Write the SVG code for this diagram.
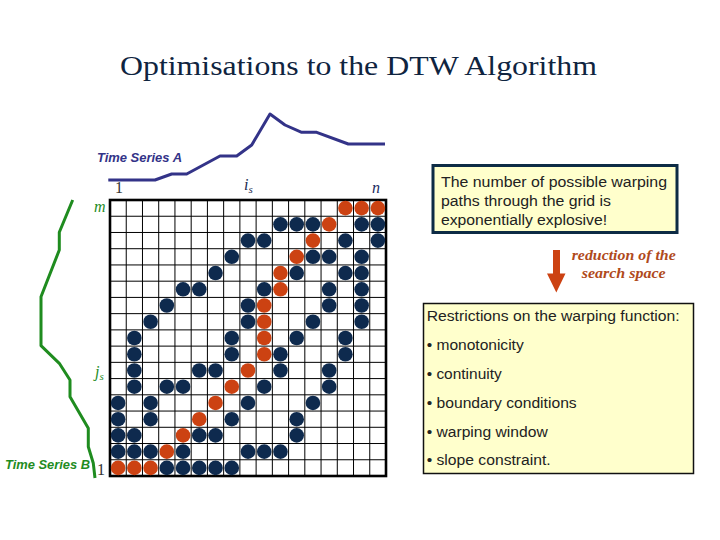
<svg xmlns="http://www.w3.org/2000/svg" width="720" height="540" viewBox="0 0 720 540">
<style>
.n{fill:#0e2a4e}
.o{fill:#cc4212}
.box{fill:#ffffcc}
.sans{font-family:"Liberation Sans",Arial,sans-serif;font-size:14px;fill:#222}
.ital{font-family:"Liberation Serif","Times New Roman",serif;font-style:italic;font-size:16px}
.num{font-family:"Liberation Serif","Times New Roman",serif;font-size:16px;fill:#333}
.ts{font-family:"Liberation Sans",Arial,sans-serif;font-style:italic;font-weight:bold;font-size:12px}
</style>
<rect width="720" height="540" fill="#ffffff"/>
<g id="title">
<text x="120" y="75" font-family="'Liberation Serif','Times New Roman',serif" font-size="28" fill="#0f2440" textLength="477" lengthAdjust="spacingAndGlyphs">Optimisations to the DTW Algorithm</text>
</g>
<g id="series-a">
<polyline points="108.3,180 155,180 171.7,174 186.7,174 220,156 236.7,156 251.7,145 270,114 285,125 301.7,132.3 316.7,132.3 348.3,144 385,144" fill="none" stroke="#333388" stroke-width="3" stroke-linejoin="round"/>
<text class="ts" x="97" y="162" fill="#333388" textLength="85" lengthAdjust="spacingAndGlyphs">Time Series A</text>
</g>
<g id="series-b">
<polyline points="95,478 93.3,463.3 88.3,446.7 88.3,428.3 70,396.7 70,380 59.3,363.3 41,345.7 41,296.7 59.3,250 59.3,232.3 72.7,200" fill="none" stroke="#1f8c1f" stroke-width="3" stroke-linejoin="round"/>
<text class="ts" x="5" y="469" fill="#1f8c1f" textLength="85" lengthAdjust="spacingAndGlyphs">Time Series B</text>
</g>
<g id="axis-labels">
<text class="num" x="115" y="193">1</text>
<text class="ital" x="244" y="190" fill="#1a2a50">i<tspan font-size="11" dy="3">s</tspan></text>
<text class="ital" x="372" y="193" fill="#1a2a60">n</text>
<text class="ital" x="94" y="212" fill="#1f8c1f">m</text>
<text class="ital" x="95" y="377" fill="#1f8c1f">j<tspan font-size="11" dy="3">s</tspan></text>
<text class="num" x="97" y="475">1</text>
</g>
<g id="grid">
<rect x="110" y="200" width="276" height="276" fill="#ffffff"/>
<path d="M126.24,200V476M142.47,200V476M158.71,200V476M174.94,200V476M191.18,200V476M207.41,200V476M223.65,200V476M239.88,200V476M256.12,200V476M272.35,200V476M288.59,200V476M304.82,200V476M321.06,200V476M337.29,200V476M353.53,200V476M369.76,200V476M110,216.24H386M110,232.47H386M110,248.71H386M110,264.94H386M110,281.18H386M110,297.41H386M110,313.65H386M110,329.88H386M110,346.12H386M110,362.35H386M110,378.59H386M110,394.82H386M110,411.06H386M110,427.29H386M110,443.53H386M110,459.76H386" stroke="#000" stroke-width="1" fill="none"/>
<rect x="110" y="200" width="276" height="276" fill="none" stroke="#000" stroke-width="2.6"/>
<g id="dots">
<circle class="o" cx="345.41" cy="208.12" r="7.3"/><circle class="o" cx="361.65" cy="208.12" r="7.3"/><circle class="o" cx="377.88" cy="208.12" r="7.3"/>
<circle class="n" cx="280.47" cy="224.35" r="7.3"/><circle class="n" cx="296.7" cy="224.35" r="7.3"/><circle class="n" cx="312.94" cy="224.35" r="7.3"/><circle class="o" cx="329.18" cy="224.35" r="7.3"/><circle class="n" cx="361.65" cy="224.35" r="7.3"/><circle class="n" cx="377.88" cy="224.35" r="7.3"/>
<circle class="n" cx="248" cy="240.59" r="7.3"/><circle class="n" cx="264.23" cy="240.59" r="7.3"/><circle class="o" cx="312.94" cy="240.59" r="7.3"/><circle class="n" cx="345.41" cy="240.59" r="7.3"/><circle class="n" cx="377.88" cy="240.59" r="7.3"/>
<circle class="n" cx="231.76" cy="256.82" r="7.3"/><circle class="o" cx="296.7" cy="256.82" r="7.3"/><circle class="n" cx="312.94" cy="256.82" r="7.3"/><circle class="n" cx="329.18" cy="256.82" r="7.3"/><circle class="n" cx="361.65" cy="256.82" r="7.3"/>
<circle class="n" cx="215.53" cy="273.06" r="7.3"/><circle class="o" cx="280.47" cy="273.06" r="7.3"/><circle class="n" cx="296.7" cy="273.06" r="7.3"/><circle class="n" cx="345.41" cy="273.06" r="7.3"/><circle class="n" cx="361.65" cy="273.06" r="7.3"/>
<circle class="n" cx="183.06" cy="289.29" r="7.3"/><circle class="n" cx="199.29" cy="289.29" r="7.3"/><circle class="n" cx="264.23" cy="289.29" r="7.3"/><circle class="o" cx="280.47" cy="289.29" r="7.3"/><circle class="n" cx="329.18" cy="289.29" r="7.3"/><circle class="n" cx="361.65" cy="289.29" r="7.3"/>
<circle class="n" cx="166.82" cy="305.53" r="7.3"/><circle class="n" cx="248" cy="305.53" r="7.3"/><circle class="o" cx="264.23" cy="305.53" r="7.3"/><circle class="n" cx="329.18" cy="305.53" r="7.3"/><circle class="n" cx="361.65" cy="305.53" r="7.3"/>
<circle class="n" cx="150.59" cy="321.76" r="7.3"/><circle class="n" cx="248" cy="321.76" r="7.3"/><circle class="o" cx="264.23" cy="321.76" r="7.3"/><circle class="n" cx="312.94" cy="321.76" r="7.3"/><circle class="n" cx="361.65" cy="321.76" r="7.3"/>
<circle class="n" cx="134.35" cy="338" r="7.3"/><circle class="n" cx="231.76" cy="338" r="7.3"/><circle class="o" cx="264.23" cy="338" r="7.3"/><circle class="n" cx="296.7" cy="338" r="7.3"/><circle class="n" cx="345.41" cy="338" r="7.3"/>
<circle class="n" cx="134.35" cy="354.23" r="7.3"/><circle class="n" cx="231.76" cy="354.23" r="7.3"/><circle class="o" cx="264.23" cy="354.23" r="7.3"/><circle class="n" cx="280.47" cy="354.23" r="7.3"/><circle class="n" cx="345.41" cy="354.23" r="7.3"/>
<circle class="n" cx="134.35" cy="370.47" r="7.3"/><circle class="n" cx="199.29" cy="370.47" r="7.3"/><circle class="n" cx="215.53" cy="370.47" r="7.3"/><circle class="o" cx="248" cy="370.47" r="7.3"/><circle class="n" cx="280.47" cy="370.47" r="7.3"/><circle class="n" cx="329.18" cy="370.47" r="7.3"/>
<circle class="n" cx="134.35" cy="386.7" r="7.3"/><circle class="n" cx="166.82" cy="386.7" r="7.3"/><circle class="n" cx="183.06" cy="386.7" r="7.3"/><circle class="o" cx="231.76" cy="386.7" r="7.3"/><circle class="n" cx="264.23" cy="386.7" r="7.3"/><circle class="n" cx="329.18" cy="386.7" r="7.3"/>
<circle class="n" cx="118.12" cy="402.94" r="7.3"/><circle class="n" cx="150.59" cy="402.94" r="7.3"/><circle class="o" cx="215.53" cy="402.94" r="7.3"/><circle class="n" cx="248" cy="402.94" r="7.3"/><circle class="n" cx="312.94" cy="402.94" r="7.3"/>
<circle class="n" cx="118.12" cy="419.18" r="7.3"/><circle class="n" cx="150.59" cy="419.18" r="7.3"/><circle class="o" cx="199.29" cy="419.18" r="7.3"/><circle class="n" cx="231.76" cy="419.18" r="7.3"/><circle class="n" cx="296.7" cy="419.18" r="7.3"/>
<circle class="n" cx="118.12" cy="435.41" r="7.3"/><circle class="n" cx="134.35" cy="435.41" r="7.3"/><circle class="o" cx="183.06" cy="435.41" r="7.3"/><circle class="n" cx="199.29" cy="435.41" r="7.3"/><circle class="n" cx="215.53" cy="435.41" r="7.3"/><circle class="n" cx="296.7" cy="435.41" r="7.3"/>
<circle class="n" cx="118.12" cy="451.65" r="7.3"/><circle class="n" cx="134.35" cy="451.65" r="7.3"/><circle class="n" cx="150.59" cy="451.65" r="7.3"/><circle class="o" cx="166.82" cy="451.65" r="7.3"/><circle class="n" cx="183.06" cy="451.65" r="7.3"/><circle class="n" cx="248" cy="451.65" r="7.3"/><circle class="n" cx="264.23" cy="451.65" r="7.3"/><circle class="n" cx="280.47" cy="451.65" r="7.3"/>
<circle class="o" cx="118.12" cy="467.88" r="7.3"/><circle class="o" cx="134.35" cy="467.88" r="7.3"/><circle class="o" cx="150.59" cy="467.88" r="7.3"/><circle class="n" cx="166.82" cy="467.88" r="7.3"/><circle class="n" cx="183.06" cy="467.88" r="7.3"/><circle class="n" cx="199.29" cy="467.88" r="7.3"/><circle class="n" cx="215.53" cy="467.88" r="7.3"/><circle class="n" cx="231.76" cy="467.88" r="7.3"/>
</g>
</g>
<g id="note-box">
<rect class="box" x="433" y="165.5" width="244" height="67" stroke="#0d2b45" stroke-width="3"/>
<text class="sans" x="441" y="186.5" textLength="226" lengthAdjust="spacingAndGlyphs">The number of possible warping</text>
<text class="sans" x="441" y="206" textLength="170" lengthAdjust="spacingAndGlyphs">paths through the grid is</text>
<text class="sans" x="441" y="225" textLength="166" lengthAdjust="spacingAndGlyphs">exponentially explosive!</text>
</g>
<g id="connectors">
<path d="M553,250H560V273.5H565.5L556.3,292.5L547,273.5H553Z" fill="#cc4212"/>
</g>
<g id="reduction-label">
<text x="571.7" y="260" font-family="'Liberation Serif','Times New Roman',serif" font-style="italic" font-weight="bold" font-size="14" fill="#b04a1c" textLength="104" lengthAdjust="spacingAndGlyphs">reduction of the</text>
<text x="581.7" y="277.5" font-family="'Liberation Serif','Times New Roman',serif" font-style="italic" font-weight="bold" font-size="14" fill="#b04a1c" textLength="84" lengthAdjust="spacingAndGlyphs">search space</text>
</g>
<g id="restrictions-box">
<rect class="box" x="423.5" y="303.5" width="270" height="170" stroke="#111" stroke-width="1.5"/>
<text class="sans" x="426.7" y="320.5" textLength="253" lengthAdjust="spacingAndGlyphs">Restrictions on the warping function:</text>
<text class="sans" x="426.7" y="350" textLength="97" lengthAdjust="spacingAndGlyphs">• monotonicity</text>
<text class="sans" x="426.7" y="379" textLength="75" lengthAdjust="spacingAndGlyphs">• continuity</text>
<text class="sans" x="426.7" y="408.3" textLength="150" lengthAdjust="spacingAndGlyphs">• boundary conditions</text>
<text class="sans" x="426.7" y="436.7" textLength="121" lengthAdjust="spacingAndGlyphs">• warping window</text>
<text class="sans" x="426.7" y="465" textLength="124" lengthAdjust="spacingAndGlyphs">• slope constraint.</text>
</g>
</svg>
